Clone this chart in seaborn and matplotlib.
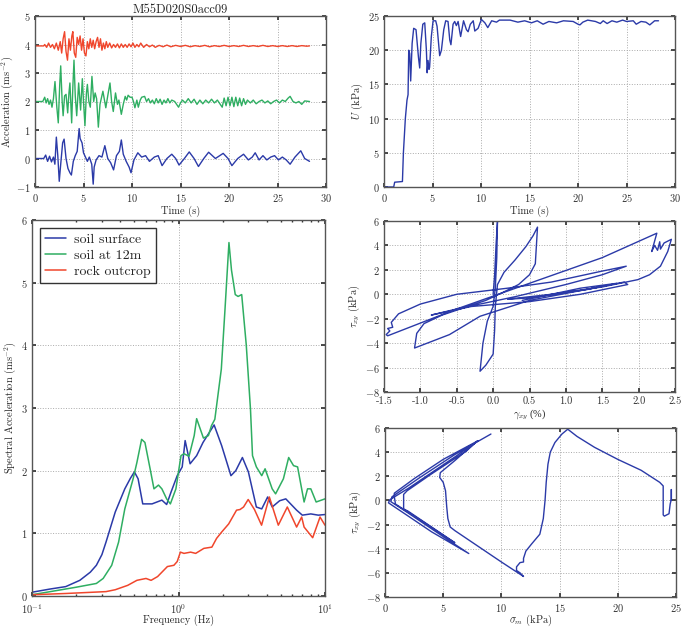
import matplotlib
matplotlib.use("Agg")
import matplotlib.pyplot as plt
import seaborn as sns
import pandas as pd
import numpy as np

# ---- data ----
# acceleration time histories (t [s], acc [m/s2]); plotted with offsets 0 / 2 / 4
surface_acc = [(0, 0), (0.9, 0), (1.1, 0.12), (1.3, -0.1), (1.5, 0.08), (1.7, -0.12), (1.9, 0.05),
               (2.05, -0.2), (2.2, 0.75), (2.35, 0.1), (2.5, -0.8), (2.65, -0.2), (2.85, 0.55), (3.0, 0.68),
               (3.2, 0.0), (3.4, -0.35), (3.6, -0.5), (3.75, -0.58), (3.95, -0.1), (4.15, 0.1), (4.35, 0.25),
               (4.55, 1.05), (4.65, 0.7), (4.85, 0.55), (5.0, 0.2), (5.2, 0.05), (5.4, -0.1), (5.6, 0.05),
               (5.85, -0.2), (6.0, -0.9), (6.1, -0.3), (6.3, -0.05), (6.6, 0.1), (6.9, 0.05), (7.2, 0.45),
               (7.5, 0.0), (7.8, -0.15), (8.1, -0.4), (8.4, 0.1), (8.7, 0.25), (8.9, 0.65), (9.1, 0.15),
               (9.4, -0.1), (9.7, -0.3), (9.9, -0.5), (10.2, -0.05), (10.6, 0.2), (11.0, 0.05), (11.4, 0.1),
               (11.8, -0.1), (12.3, 0.05), (12.7, 0.1), (13.1, -0.25), (13.6, 0.0), (14.1, 0.15), (14.5, 0.0),
               (14.85, -0.23), (15.4, 0.0), (15.9, 0.23), (16.4, 0.0), (16.85, -0.28), (17.4, 0.0), (17.9, 0.22),
               (18.6, 0.0), (19.4, 0.18), (19.9, 0.0), (20.3, -0.25), (20.9, 0.0), (21.5, 0.15), (22.0, -0.05),
               (22.4, 0.05), (22.7, 0.2), (23.1, -0.05), (23.5, 0.1), (23.9, -0.05), (24.3, 0.05), (24.7, 0.1),
               (25.1, -0.05), (25.5, 0.05), (25.9, -0.05), (26.3, -0.2), (26.8, 0.05), (27.4, 0.27), (27.8, 0.0),
               (28.3, -0.1)]

depth12_acc = [(0, 0.0), (0.8, 0.0), (1.0, 0.15), (1.15, -0.05), (1.3, 0.1), (1.45, -0.1), (1.6, 0.05),
               (1.75, -0.2), (1.9, 0.1), (2.06, 0.7), (2.25, -0.2), (2.4, -0.75), (2.55, 0.6), (2.65, 1.25),
               (2.8, 0.0), (2.9, -0.5), (3.05, 0.2), (3.2, 0.25), (3.37, -0.4), (3.5, 0.3), (3.6, 0.65),
               (3.78, -0.75), (3.9, 0.5), (4.02, 1.45), (4.15, 0.2), (4.3, -0.5), (4.5, 0.65), (4.7, -0.3),
               (4.88, 0.8), (5.0, 0.0), (5.15, -0.85), (5.3, 0.3), (5.4, 0.6), (5.55, 0.0), (5.7, -0.2),
               (5.87, 0.88), (6.05, 0.0), (6.2, 0.3), (6.35, 0.1), (6.53, -0.9), (6.7, -0.1), (7.0, 0.36),
               (7.3, -0.22), (7.5, 0.2), (7.73, 0.65), (7.9, 0.0), (8.07, -0.35), (8.3, 0.3), (8.5, -0.1),
               (8.65, 0.05), (8.9, -0.45), (9.1, -0.1), (9.3, 0.18), (9.45, 0.05), (9.6, 0.22), (9.8, 0.15),
               (10.0, 0.15), (10.15, 0.0), (10.3, -0.22), (10.5, 0.05), (10.65, -0.2), (10.85, 0.05),
               (11.0, 0.15), (11.3, 0.18), (11.5, 0.0), (11.7, 0.1), (11.9, -0.05), (12.1, 0.05), (12.3, -0.08),
               (12.5, 0.1), (12.7, -0.05), (12.9, 0.08), (13.1, -0.1), (13.3, 0.05), (13.5, -0.05), (13.7, 0.1),
               (13.9, -0.05), (14.1, 0.05), (14.4, 0.0), (14.8, -0.2), (15.0, -0.05), (15.2, 0.05), (15.5, -0.05),
               (15.8, 0.1), (16.1, -0.05), (16.4, 0.08), (16.7, -0.1), (17.0, 0.05), (17.3, -0.08), (17.6, 0.05),
               (17.9, -0.05), (18.2, 0.08), (18.5, -0.05), (18.8, 0.05), (19.1, -0.1), (19.3, -0.2), (19.5, 0.12),
               (19.7, -0.15), (19.9, 0.15), (20.1, -0.15), (20.3, 0.15), (20.5, -0.18), (20.7, 0.15),
               (20.9, -0.15), (21.1, 0.12), (21.3, -0.15), (21.5, 0.1), (21.7, -0.1), (21.9, 0.05), (22.2, -0.05),
               (22.5, 0.05), (22.8, -0.08), (23.1, 0.0), (23.4, 0.05), (23.7, -0.05), (24.0, 0.02), (24.3, -0.08),
               (24.6, 0.0), (24.9, 0.05), (25.2, -0.05), (25.5, 0.05), (25.8, 0.0), (26.1, 0.12), (26.3, 0.18),
               (26.6, 0.0), (26.9, -0.05), (27.2, 0.0), (27.5, -0.1), (27.8, 0.02), (28.3, 0.0)]

rock_acc = [(0, -0.05), (0.9, -0.05), (1.0, 0.0), (1.2, -0.1), (1.4, 0.05), (1.6, -0.1), (1.8, 0.0),
            (2.0, -0.15), (2.2, 0.05), (2.4, -0.2), (2.6, 0.1), (2.75, -0.3), (2.9, 0.2), (3.05, 0.45),
            (3.2, -0.25), (3.35, -0.55), (3.5, 0.2), (3.65, -0.2), (3.8, 0.3), (3.9, 0.45), (4.05, -0.3),
            (4.2, -0.45), (4.35, 0.25), (4.5, 0.0), (4.65, 0.3), (4.8, -0.2), (4.95, 0.2), (5.1, -0.3),
            (5.25, -0.4), (5.4, 0.1), (5.55, -0.15), (5.7, 0.2), (5.85, -0.1), (6.0, 0.15), (6.15, -0.15),
            (6.3, 0.1), (6.45, 0.25), (6.6, -0.1), (6.75, 0.2), (6.9, -0.2), (7.05, 0.05), (7.2, -0.15),
            (7.35, 0.1), (7.5, -0.1), (7.7, 0.05), (7.9, -0.12), (8.1, 0.0), (8.3, -0.1), (8.5, 0.02),
            (8.7, -0.12), (8.9, 0.02), (9.1, -0.1), (9.3, 0.0), (9.5, -0.1), (9.7, 0.02), (9.9, -0.08),
            (10.1, 0.05), (10.3, -0.1), (10.5, 0.0), (10.7, -0.08), (10.9, 0.05), (11.2, -0.1), (11.5, 0.0),
            (11.8, -0.08), (12.1, -0.02), (12.4, -0.1), (12.8, -0.03), (13.2, -0.08), (13.6, -0.02),
            (14.0, -0.08), (14.5, -0.03), (15.0, -0.07), (15.5, -0.03), (16.0, -0.08), (16.5, -0.04),
            (17.0, -0.07), (17.5, -0.03), (18.0, -0.08), (18.5, -0.04), (19.0, -0.07), (19.5, -0.03),
            (20.0, -0.07), (20.5, -0.04), (21.0, -0.07), (21.5, -0.03), (22.0, -0.07), (22.5, -0.04),
            (23.0, -0.07), (23.5, -0.03), (24.0, -0.07), (24.5, -0.04), (25.0, -0.07), (25.5, -0.04),
            (26.0, -0.07), (26.5, -0.04), (27.0, -0.07), (27.5, -0.04), (28.0, -0.06), (28.3, -0.05)]

# excess pore pressure U (t [s], kPa)
pore_pressure = [(0, 0), (1.0, 0), (1.1, 0.7), (1.9, 0.8), (2.0, 5), (2.2, 10), (2.37, 12.7), (2.48, 13.5),
                 (2.55, 20), (2.65, 19.5), (2.75, 15.5), (2.9, 21), (3.06, 23.2), (3.3, 23), (3.55, 19),
                 (3.68, 17.4), (3.8, 21), (4.0, 23.8), (4.2, 24), (4.37, 20), (4.45, 16.7), (4.54, 18.5),
                 (4.64, 17.2), (4.7, 17.5), (4.88, 22), (5.06, 24.3), (5.33, 24.3), (5.47, 23.5), (5.74, 19.2),
                 (5.92, 20), (6.16, 23), (6.36, 24.3), (6.6, 24.2), (6.78, 21.5), (6.9, 20.8), (7.12, 23.8),
                 (7.29, 24.2), (7.46, 23.6), (7.64, 24.2), (7.8, 22.8), (7.9, 22), (8.2, 24.3), (8.5, 23),
                 (8.67, 22.7), (8.9, 23.8), (9.2, 24.3), (9.36, 22.8), (9.7, 23.2), (10.04, 24.5), (10.4, 24),
                 (10.7, 23.3), (11.1, 24.3), (11.6, 24.1), (11.9, 24.4), (13.0, 24.4), (13.8, 24.1), (14.5, 24.3),
                 (15.2, 24.0), (15.8, 24.3), (16.4, 23.8), (17.0, 24.2), (17.8, 24.0), (18.5, 24.3), (19.5, 24.2),
                 (20.0, 23.8), (20.2, 23.7), (20.5, 24.1), (21.0, 24.4), (21.8, 24.2), (22.3, 23.9), (22.6, 24.3),
                 (23.0, 23.9), (23.5, 24.3), (24.0, 24.1), (24.6, 24.4), (25.0, 24.2), (25.7, 24.3), (26.0, 23.8),
                 (26.5, 24.2), (27.0, 24.1), (27.4, 23.7), (27.9, 24.3), (28.3, 24.3)]

# response spectra (f [Hz], Sa [m/s2])
spec_surface = [(0.1, 0.06), (0.132, 0.11), (0.17, 0.15), (0.212, 0.25), (0.25, 0.38), (0.275, 0.49),
                (0.3, 0.66), (0.32, 0.86), (0.37, 1.34), (0.43, 1.71), (0.47, 1.88), (0.5, 1.98), (0.53, 1.87),
                (0.57, 1.47), (0.66, 1.47), (0.77, 1.53), (0.83, 1.46), (0.89, 1.66), (0.98, 1.92), (1.06, 2.06),
                (1.11, 2.48), (1.2, 2.11), (1.33, 2.24), (1.47, 2.45), (1.75, 2.73), (1.97, 2.4), (2.28, 1.92),
                (2.46, 2.0), (2.73, 2.21), (3.0, 1.98), (3.4, 1.42), (3.7, 1.39), (4.06, 1.58), (4.36, 1.42),
                (4.9, 1.52), (5.4, 1.55), (6.4, 1.37), (7.0, 1.29), (8.0, 1.31), (9.0, 1.29), (10.0, 1.3)]
spec_12m = [(0.1, 0.02), (0.2, 0.14), (0.275, 0.2), (0.306, 0.28), (0.35, 0.49), (0.39, 0.86), (0.43, 1.39),
            (0.49, 1.87), (0.52, 2.13), (0.56, 2.5), (0.59, 2.45), (0.64, 2.03), (0.68, 1.71), (0.73, 1.77),
            (0.77, 1.71), (0.83, 1.55), (0.88, 1.47), (0.96, 1.71), (1.04, 2.24), (1.09, 2.27), (1.18, 2.23),
            (1.28, 2.56), (1.33, 2.83), (1.41, 2.66), (1.48, 2.52), (1.6, 2.56), (1.68, 2.72), (1.77, 2.82),
            (1.96, 3.62), (2.08, 4.6), (2.21, 5.64), (2.3, 5.2), (2.44, 4.81), (2.55, 4.78), (2.7, 4.81),
            (2.9, 4.01), (3.1, 2.98), (3.2, 2.24), (3.4, 2.06), (3.7, 1.92), (3.9, 2.03), (4.36, 1.71),
            (4.6, 1.63), (5.2, 1.87), (5.65, 2.21), (6.1, 2.08), (6.5, 2.06), (7.2, 1.5), (7.6, 1.71),
            (8.0, 1.71), (8.7, 1.5), (10.0, 1.55)]
spec_rock = [(0.1, 0.02), (0.17, 0.04), (0.32, 0.07), (0.37, 0.1), (0.45, 0.17), (0.52, 0.25), (0.6, 0.28),
             (0.65, 0.25), (0.72, 0.31), (0.84, 0.47), (0.93, 0.49), (0.98, 0.55), (1.03, 0.7), (1.09, 0.68),
             (1.21, 0.7), (1.31, 0.68), (1.49, 0.76), (1.69, 0.78), (1.82, 0.92), (1.97, 1.02), (2.2, 1.15),
             (2.49, 1.37), (2.63, 1.38), (2.78, 1.42), (2.99, 1.54), (3.3, 1.38), (3.69, 1.13), (4.17, 1.58),
             (4.8, 1.13), (5.53, 1.42), (6.4, 1.1), (6.93, 1.26), (7.2, 1.1), (8.24, 0.93), (9.25, 1.26),
             (10.0, 1.13)]

# stress-strain loop (gamma_xy [%], tau_xy [kPa])
stress_strain = [(0, 0), (0.02, 1.5), (0.04, 4), (0.06, 6.0), (0.05, 3), (0.03, 0.5), (0.0, -1.0),
                 (-0.08, -2.2), (-0.14, -4), (-0.18, -6.3), (-0.1, -5.8), (0.0, -4.9), (0.02, -3), (0.03, -1),
                 (0.06, 0.8), (0.15, 1.8), (0.3, 2.8), (0.45, 3.9), (0.55, 4.8), (0.61, 5.5), (0.6, 4.5),
                 (0.58, 2.5), (0.5, 1.6), (0.35, 0.8), (0.15, 0.2), (-0.1, -0.5), (-0.4, -1.1), (-0.7, -1.7),
                 (-0.95, -2.4), (-1.05, -3.2), (-1.08, -4.4), (-0.6, -3.3), (-0.18, -1.8), (0.5, -0.5),
                 (1.2, 0.3), (1.8, 1.0), (1.85, 0.8), (1.2, 0.0), (0.5, -0.6), (-0.3, -1.0), (-0.85, -1.7),
                 (-0.5, -1.2), (0.3, -0.2), (1.0, 0.8), (1.5, 1.6), (1.83, 2.3), (1.5, 1.9), (0.8, 1.0),
                 (0.2, 0.5), (-0.5, 0.0), (-1.0, -0.8), (-1.3, -1.6), (-1.4, -2.3), (-1.38, -2.7), (-1.45, -2.8),
                 (-1.42, -3.0), (-1.47, -3.3), (-1.45, -3.4), (-0.5, -1.2), (0.5, 0.9), (1.5, 3.0), (2.25, 5.0),
                 (2.18, 3.5), (2.22, 4.0), (2.26, 3.6), (2.29, 4.3), (2.3, 3.7), (2.35, 4.2), (2.45, 4.5),
                 (2.4, 3.5), (2.3, 2.3), (2.15, 1.6), (1.99, 1.2), (1.5, 0.6), (0.8, 0.0), (0.2, -0.4),
                 (0.5, -0.3), (1.3, 0.4), (1.7, 0.9), (1.2, 0.5), (0.4, -0.5)]

# stress path (sigma_m [kPa], tau_xy [kPa])
stress_path = [(24.6, 0.0), (24.6, 0.9), (24.6, 0.1), (24.5, -0.3), (24.4, -1.1), (24.0, -1.3), (23.9, -1.2),
               (23.9, 1.2), (23.6, 1.5), (22, 2.5), (20, 3.4), (18, 4.4), (16.5, 5.3), (15.7, 5.9), (15.2, 5.5),
               (14.6, 4.8), (14.2, 4.0), (14.0, 3.0), (13.85, 1.5), (13.75, 0), (13.6, -1.5), (13.3, -2.8),
               (12.6, -3.6), (12.1, -4.2), (11.9, -4.8), (11.9, -5.1), (11.6, -5.15), (11.3, -5.5),
               (11.3, -5.8), (11.6, -6.0), (11.9, -6.3), (10, -5.1), (8, -3.8), (6, -2.5), (5.6, -2.2),
               (5.4, -1.5), (5.3, -0.5), (5.2, 0.8), (5.0, 1.5), (4.7, 1.9), (4.75, 2.3), (6.0, 3.3),
               (7.9, 4.9), (7.0, 4.1), (4.0, 2.2), (1.9, 0.8), (1.6, 0.5), (1.6, -0.7), (2.0, -0.9),
               (4.0, -2.2), (6.0, -3.5), (5.5, -3.2), (3, -1.6), (0.9, -0.3), (0.8, 0.3), (0.8, 0.6),
               (2.5, 1.8), (5, 3.4), (8, 4.95), (6, 3.6), (2, 1.0), (0.4, 0.05), (0.3, -0.2), (2, -1.3),
               (4, -2.6), (7.2, -4.4), (5, -3.0), (2, -1.05), (0.5, -0.1), (0.6, 0.3), (3, 1.9), (6, 3.8),
               (9.1, 5.5)]

series_names = ["soil surface", "soil at 12m", "rock outcrop"]
blue, green, red = "#2b3aa8", "#2fae62", "#f0462c"

# ---- style ----
sns.set_theme(style="whitegrid", rc={
    "grid.linestyle": ":", "grid.color": "#aaaaaa", "grid.linewidth": 0.7,
    "axes.edgecolor": "#555555", "axes.linewidth": 1.0,
    "xtick.direction": "in", "ytick.direction": "in",
    "xtick.bottom": True, "ytick.left": True, "xtick.top": True, "ytick.right": True,
    "xtick.major.size": 3, "ytick.major.size": 3,
    "xtick.color": "#333333", "ytick.color": "#333333",
})
plt.rcParams["font.family"] = ["cmr10", "DejaVu Serif"]
plt.rcParams["mathtext.fontset"] = "cm"
plt.rcParams["axes.formatter.use_mathtext"] = True
plt.rcParams["axes.unicode_minus"] = True

fig = plt.figure(figsize=(6.86, 6.28), dpi=100)
W, H = 686, 628


def add_ax(x0, x1, ytop, ybot):
    return fig.add_axes([x0 / W, 1 - ybot / H, (x1 - x0) / W, (ybot - ytop) / H])


ax_acc = add_ax(35, 326, 16, 187)
ax_u = add_ax(384, 675, 16, 187)
ax_sa = add_ax(32, 325, 220, 596)
ax_ss = add_ax(384, 675, 221, 392)
ax_sp = add_ax(385, 676, 428, 597)

fs_tick, fs_lab = 7.5, 7.5
lw = 1.0

# acceleration histories
for pts, off, col in [(rock_acc, 4, red), (depth12_acc, 2, green), (surface_acc, 0, blue)]:
    df = pd.DataFrame(pts, columns=["t", "a"])
    df["a"] = df["a"] + off
    sns.lineplot(data=df, x="t", y="a", ax=ax_acc, color=col, lw=lw, sort=False, estimator=None)
ax_acc.set_xlim(0, 30)
ax_acc.set_ylim(-1, 5)
ax_acc.set_xlabel("Time (s)", fontsize=fs_lab, labelpad=1)
ax_acc.set_ylabel(r"Acceleration (ms$^{-2}$)", fontsize=fs_lab, labelpad=1)
ax_acc.set_title("M55D020S0acc09", fontsize=9, pad=2)

# pore pressure
df = pd.DataFrame(pore_pressure, columns=["t", "u"])
sns.lineplot(data=df, x="t", y="u", ax=ax_u, color=blue, lw=lw, sort=False, estimator=None)
ax_u.set_xlim(0, 30)
ax_u.set_ylim(0, 25)
ax_u.set_xlabel("Time (s)", fontsize=fs_lab, labelpad=1)
ax_u.set_ylabel(r"$U$ (kPa)", fontsize=fs_lab, labelpad=2)

# spectra
frames = []
for name, pts in zip(series_names, [spec_surface, spec_12m, spec_rock]):
    d = pd.DataFrame(pts, columns=["f", "sa"])
    d["series"] = name
    frames.append(d)
spec = pd.concat(frames, ignore_index=True)
sns.lineplot(data=spec, x="f", y="sa", hue="series", hue_order=series_names,
             palette=[blue, green, red], ax=ax_sa, lw=1.1, sort=False, estimator=None)
ax_sa.set_xscale("log")
ax_sa.set_xlim(0.1, 10)
ax_sa.set_ylim(0, 6)
ax_sa.grid(True, which="major")
ax_sa.grid(False, which="minor")
ax_sa.set_xlabel("Frequency (Hz)", fontsize=fs_lab, labelpad=-1)
ax_sa.set_ylabel(r"Spectral Acceleration (ms$^{-2}$)", fontsize=fs_lab, labelpad=2)
ax_sa.tick_params(which="minor", direction="in", length=1.5, top=True, bottom=True)
leg = ax_sa.legend(loc="upper left", fontsize=10, fancybox=False, framealpha=1,
                   edgecolor="#333333", handlelength=1.5, handletextpad=0.6,
                   borderpad=0.35, labelspacing=0.25, borderaxespad=0.6)
leg.get_frame().set_linewidth(1.0)

# stress-strain
df = pd.DataFrame(stress_strain, columns=["g", "tau"])
sns.lineplot(data=df, x="g", y="tau", ax=ax_ss, color=blue, lw=lw, sort=False, estimator=None)
ax_ss.set_xlim(-1.5, 2.5)
ax_ss.set_ylim(-8, 6)
ax_ss.set_xticks(np.arange(-1.5, 2.51, 0.5))
ax_ss.xaxis.set_major_formatter(matplotlib.ticker.FormatStrFormatter("%.1f"))
ax_ss.set_xlabel(r"$\gamma_{xy}$ (%)", fontsize=fs_lab, labelpad=1, fontfamily=["Liberation Serif"])
ax_ss.set_ylabel(r"$\tau_{xy}$ (kPa)", fontsize=fs_lab, labelpad=2)

# stress path
df = pd.DataFrame(stress_path, columns=["s", "tau"])
sns.lineplot(data=df, x="s", y="tau", ax=ax_sp, color=blue, lw=lw, sort=False, estimator=None)
ax_sp.set_xlim(0, 25)
ax_sp.set_ylim(-8, 6)
ax_sp.set_xlabel(r"$\sigma_m$ (kPa)", fontsize=fs_lab, labelpad=-1)
ax_sp.set_ylabel(r"$\tau_{xy}$ (kPa)", fontsize=fs_lab, labelpad=2)

for ax in [ax_acc, ax_u, ax_sa, ax_ss, ax_sp]:
    ax.tick_params(axis="x", labelsize=fs_tick, pad=3.5)
    ax.tick_params(axis="y", labelsize=fs_tick, pad=3)
    for s in ax.spines.values():
        s.set_visible(True)
        s.set_color("#555555")
ax_sa.tick_params(axis="x", which="major", pad=4.5)

fig.savefig("out.png", dpi=100)
